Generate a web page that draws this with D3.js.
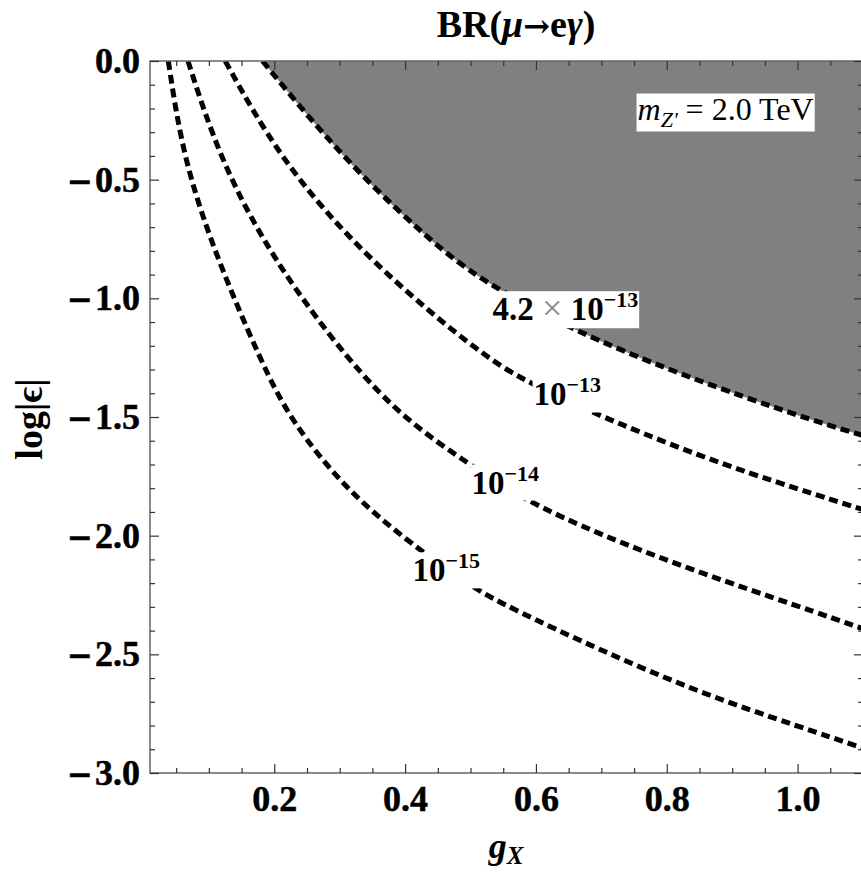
<!DOCTYPE html>
<html>
<head>
<meta charset="utf-8">
<script src="https://cdn.jsdelivr.net/npm/d3@7"></script>
<style>
  body { margin: 0; background: #fff; }
  svg { display: block; font-family: "Liberation Serif", "Times New Roman", serif; }
</style>
</head>
<body>
<script>
// BR(mu -> e gamma) contours in the (g_X, log|eps|) plane, m_Z' = 2 TeV

// excluded boundary, BR = 4.2e-13
var boundary = [[0.182, 0], [0.306, -0.417], [0.469, -0.838], [0.550, -0.973], [0.648, -1.124],
                [0.821, -1.323], [1.020, -1.513], [1.10, -1.578]];
// BR = 1e-13
var br13 = [[0.125, 0], [0.209, -0.417], [0.342, -0.838], [0.526, -1.260], [0.591, -1.355],
            [0.672, -1.466], [0.851, -1.668], [1.004, -1.807], [1.10, -1.890]];
// BR = 1e-14
var br14 = [[0.068, 0], [0.117, -0.417], [0.198, -0.838], [0.312, -1.260], [0.400, -1.513],
            [0.500, -1.702], [0.576, -1.841], [0.698, -1.997], [0.851, -2.157], [1.004, -2.300], [1.10, -2.392]];
// BR = 1e-15
var br15 = [[0.038, 0], [0.061, -0.417], [0.113, -0.838], [0.179, -1.260], [0.224, -1.513],
            [0.316, -1.829], [0.428, -2.073], [0.504, -2.220], [0.561, -2.305], [0.698, -2.482],
            [0.851, -2.663], [1.004, -2.806], [1.10, -2.895]];

var contours = [boundary, br13, br14, br15];

// contour labels: [g, log eps, mantissa, exponent]
var labels = [
  [0.645, -1.048, "4.2", "\u221213"],
  [0.648, -1.405, null, "\u221213"],
  [0.553, -1.776, null, "\u221214"],
  [0.463, -2.146, null, "\u221215"]
];

var xMajor = [0.2, 0.4, 0.6, 0.8, 1.0];
var xMinor = d3.range(0.05, 1.1, 0.05).filter(function(v) { return Math.abs(v / 0.2 - Math.round(v / 0.2)) > 1e-6; });
var yMajor = [0, -0.5, -1, -1.5, -2, -2.5, -3];
var yMinor = d3.range(-0.1, -3, -0.1).filter(function(v) { return Math.abs(v / 0.5 - Math.round(v / 0.5)) > 1e-6; });

var massPos = [0.890, -0.215];

var width = 861, height = 876;
var padLeft = 150, padTop = 61, padBottom = 773;

var x = d3.scaleLinear().domain([0.01, 1.1]).range([padLeft, 863]);
var y = d3.scaleLinear().domain([0, -3]).range([padTop, padBottom]);

var svg = d3.select("body").append("svg")
    .attr("width", width)
    .attr("height", height);

svg.append("clipPath").attr("id", "plot")
  .append("rect")
    .attr("x", x(0.01)).attr("y", y(0))
    .attr("width", x(1.1) - x(0.01)).attr("height", y(-3) - y(0));

var plot = svg.append("g").attr("clip-path", "url(#plot)");

// shaded excluded region above the boundary
var area = d3.area()
    .x(function(d) { return x(d[0]); })
    .y0(y(0))
    .y1(function(d) { return y(d[1]); })
    .curve(d3.curveBasis);

plot.append("path")
    .datum(boundary)
    .attr("fill", "#808080")
    .attr("d", area);

var line = d3.line()
    .x(function(d) { return x(d[0]); })
    .y(function(d) { return y(d[1]); })
    .curve(d3.curveBasis);

plot.selectAll("path.contour")
    .data(contours)
  .enter().append("path")
    .attr("class", "contour")
    .attr("fill", "none")
    .attr("stroke", "#000")
    .attr("stroke-width", 5)
    .attr("stroke-dasharray", "9,5")
    .attr("d", line);

// labels on white boxes
labels.forEach(function(l) {
  var g = svg.append("g");
  var t = g.append("text")
      .attr("font-weight", "bold")
      .attr("font-size", 33);
  if (l[2]) {
    t.append("tspan").text(l[2] + " ");
    t.append("tspan").attr("fill", "#888").attr("font-weight", "normal").attr("font-size", 36).text("\u00d7");
    t.append("tspan").text(" 10");
  } else {
    t.append("tspan").text("10");
  }
  t.append("tspan").attr("font-size", 22).attr("dy", -13).text(l[3]);
  var b = t.node().getBBox();
  g.insert("rect", "text")
      .attr("x", b.x - 1).attr("y", b.y + 4)
      .attr("width", b.width + 2).attr("height", b.height - 4)
      .attr("fill", "#fff");
  g.attr("transform", "translate(" + (x(l[0]) - (b.x + b.width / 2)) + "," + (y(l[1]) - (b.y + b.height / 2 + 2)) + ")");
});

// mass annotation
var mg = svg.append("g");
var mt = mg.append("text").attr("font-size", 32);
mt.append("tspan").attr("font-style", "italic").text("m");
mt.append("tspan").attr("font-style", "italic").attr("font-size", 22).attr("dy", 7).text("Z'");
mt.append("tspan").attr("dy", -7).text(" = 2.0 TeV");
var mb = mt.node().getBBox();
mg.insert("rect", "text")
    .attr("x", mb.x - 1).attr("y", mb.y + 3)
    .attr("width", mb.width + 2).attr("height", mb.height - 3)
    .attr("fill", "#fff");
mg.attr("transform", "translate(" + (x(massPos[0]) - (mb.x + mb.width / 2)) + "," + (y(massPos[1]) - (mb.y + mb.height / 2 + 1)) + ")");

// frame
svg.append("rect")
    .attr("x", x(0.01)).attr("y", y(0))
    .attr("width", x(1.1) - x(0.01)).attr("height", y(-3) - y(0))
    .attr("fill", "none")
    .attr("stroke", "#666")
    .attr("stroke-width", 1.5);

function styleAxis(g) {
  g.select(".domain").remove();
  g.selectAll(".tick line").attr("stroke", "#333").attr("stroke-width", 1.2);
  g.selectAll("text")
      .attr("fill", "#000")
      .attr("stroke", "#000")
      .attr("stroke-width", 0.5)
      .attr("font-family", "Liberation Serif, serif")
      .attr("font-weight", "bold")
      .attr("font-size", 36);
}

// long minus sign followed by the digits
function splitMinus(g) {
  g.selectAll("text").each(function() {
    var s = this.textContent;
    if (s.charAt(0) !== "\u2212") return;
    var t = d3.select(this).text(null);
    t.append("tspan").attr("font-family", "DejaVu Sans").attr("font-size", 31).text("\u2212");
    t.append("tspan").attr("dx", 2).text(s.slice(1));
  });
}

var fmt = d3.format(".1f");

svg.append("g").attr("transform", "translate(0," + padBottom + ")")
    .call(d3.axisBottom(x).tickValues(xMajor).tickFormat(fmt).tickSize(-9).tickPadding(12))
    .call(styleAxis);
svg.append("g").attr("transform", "translate(0," + padBottom + ")")
    .call(d3.axisBottom(x).tickValues(xMinor).tickFormat("").tickSize(-5))
    .call(styleAxis);
svg.append("g").attr("transform", "translate(0," + padTop + ")")
    .call(d3.axisTop(x).tickValues(xMajor).tickFormat("").tickSize(-9))
    .call(styleAxis);
svg.append("g").attr("transform", "translate(0," + padTop + ")")
    .call(d3.axisTop(x).tickValues(xMinor).tickFormat("").tickSize(-5))
    .call(styleAxis);

svg.append("g").attr("transform", "translate(" + padLeft + ",0)")
    .call(d3.axisLeft(y).tickValues(yMajor).tickFormat(fmt).tickSize(-9).tickPadding(10))
    .call(styleAxis)
    .call(splitMinus);
svg.append("g").attr("transform", "translate(" + padLeft + ",0)")
    .call(d3.axisLeft(y).tickValues(yMinor).tickFormat("").tickSize(-5))
    .call(styleAxis);
svg.append("g").attr("transform", "translate(" + x(1.1) + ",0)")
    .call(d3.axisRight(y).tickValues(yMajor).tickFormat("").tickSize(-9))
    .call(styleAxis);
svg.append("g").attr("transform", "translate(" + x(1.1) + ",0)")
    .call(d3.axisRight(y).tickValues(yMinor).tickFormat("").tickSize(-5))
    .call(styleAxis);

// title
var title = svg.append("text")
    .attr("x", 516).attr("y", 37)
    .attr("text-anchor", "middle")
    .attr("font-weight", "bold")
    .attr("font-size", 38);
title.append("tspan").text("BR(");
title.append("tspan").attr("font-style", "italic").text("\u03bc");
title.append("tspan").attr("font-family", "DejaVu Serif").attr("font-size", 32).text("\u2192");
title.append("tspan").text("e");
title.append("tspan").attr("font-style", "italic").text("\u03b3");
title.append("tspan").text(")");

// axis titles
var xt = svg.append("text")
    .attr("x", 506).attr("y", 858)
    .attr("text-anchor", "middle")
    .attr("font-style", "italic")
    .attr("font-weight", "bold")
    .attr("font-size", 36);
xt.append("tspan").text("g");
xt.append("tspan").attr("font-size", 25).attr("dy", 6).text("X");

svg.append("text")
    .attr("transform", "translate(42,419) rotate(-90)")
    .attr("text-anchor", "middle")
    .attr("font-weight", "bold")
    .attr("font-size", 38)
    .text("log|\u03f5|");
</script>
</body>
</html>
